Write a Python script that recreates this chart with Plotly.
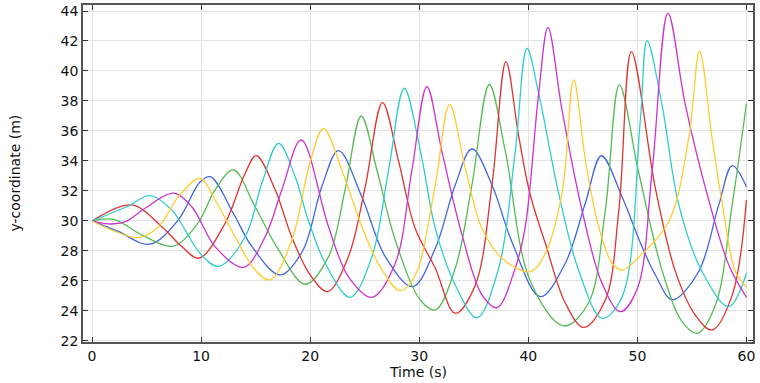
import plotly.graph_objects as go

# ---- data ----
blue_t = [0, 2.4, 5.3, 7.9, 9.9, 10.85, 12.96, 14.65, 17.25, 19.3, 21.07, 22.6, 24.74, 26.9, 29.4,
          31.47, 33.3, 34.83, 36.67, 38.5, 41.1, 43.4, 45.23, 46.7, 48.6, 50.3, 51.65, 53.2, 55.6,
          57.46, 58.7, 60]
blue_v = [30, 29.3, 28.45, 30.07, 32.6, 32.95, 30.5, 28.3, 26.4, 28.0, 32.3, 34.69, 31.6, 27.6, 25.62,
          28.18, 32.4, 34.8, 32.4, 28.6, 24.95, 27.2, 31.2, 34.35, 31.6, 28.5, 26.4, 24.75, 26.6,
          31.07, 33.69, 32.29]

green_t = [0, 1.96, 4.86, 7.46, 9.7, 11.28, 12.96, 14.95, 17.1, 19.54, 21.68, 23.2, 24.68, 26.12,
           27.8, 30.1, 31.47, 33.3, 34.83, 36.42, 37.9, 40.18, 43.24, 45.5, 47.06, 48.35, 50.1,
           52.3, 54.1, 55.48, 57.16, 58.69, 60]
green_v = [30, 30.1, 28.95, 28.33, 29.85, 32.07, 33.4, 30.95, 28.07, 25.78, 27.62, 32.07, 37.0, 33.4,
           28.73, 24.73, 24.07, 26.85, 32.4, 39.1, 34.62, 26.0, 23.0, 24.51, 30.73, 39.07, 33.3,
           26.62, 23.29, 22.51, 24.4, 31.07, 37.85]

red_t = [0, 3.64, 6.39, 8.23, 9.8, 12.2, 14.04, 15.05, 16.8, 18.3, 20.0, 21.6, 23.5, 25.05, 26.63,
         28.1, 29.63, 31.47, 33.3, 35.14, 36.67, 37.95, 39.1, 40.18, 41.56, 43.4, 45.08, 47.06,
         48.3, 49.45, 51.65, 53.49, 55.3, 56.85, 58.7, 60]
red_v = [30, 31.07, 29.62, 28.29, 27.52, 29.85, 33.18, 34.36, 32.07, 28.95, 26.4, 25.29, 27.62, 32.29,
         37.89, 34.0, 29.5, 26.85, 23.85, 25.73, 32.4, 40.62, 35.73, 31.73, 28.51, 24.51, 22.9,
         24.73, 30.73, 41.29, 32.18, 26.62, 23.73, 22.73, 25.07, 31.4]

cyan_t = [0, 3.33, 5.32, 7.31, 8.53, 9.9, 11.59, 14.04, 15.57, 17.1, 18.62, 19.8, 21.38, 23.67,
          25.66, 27.19, 28.62, 30.09, 31.47, 33.3, 35.29, 37.28, 38.8, 39.88, 40.95, 42.78, 44.6,
          46.76, 48.6, 50.27, 50.89, 52.26, 53.8, 55.93, 58.38, 60]
cyan_v = [30, 31.0, 31.69, 30.73, 29.4, 27.85, 26.97, 28.95, 32.51, 35.18, 32.95, 30.1, 27.18, 24.91,
          27.62, 33.4, 38.85, 34.73, 29.51, 25.73, 23.55, 26.85, 34.62, 41.51, 38.51, 31.85, 26.73,
          23.51, 24.95, 36.73, 42.02, 37.73, 31.07, 26.62, 24.29, 26.51]

magenta_t = [0, 1.5, 3.03, 4.86, 7.46, 9.14, 11.28, 13.88, 15.87, 17.4, 19.17, 21.68, 23.5, 25.66,
             27.8, 29.33, 30.7, 32.08, 33.92, 35.75, 37.13, 38.8, 39.72, 40.95, 41.8, 43.09, 44.92,
             46.76, 48.44, 50.0, 51.35, 52.8, 54.4, 56.5, 58.38, 60]
magenta_v = [30, 29.8, 29.95, 30.85, 31.85, 30.95, 28.29, 26.91, 28.95, 32.07, 35.4, 29.62, 26.29,
             24.91, 27.18, 33.4, 38.95, 34.62, 29.07, 25.07, 24.22, 26.85, 29.62, 38.51, 42.91, 37.4,
             30.73, 25.84, 23.95, 25.5, 33.29, 43.85, 37.73, 31.51, 27.07, 24.91]

yellow_t = [0, 1.8, 4.25, 6.09, 7.92, 9.9, 11.28, 13.12, 14.95, 16.33, 18.32, 20.0, 21.22, 22.9,
            24.74, 26.58, 28.26, 29.63, 31.47, 32.78, 34.22, 35.75, 37.59, 40.18, 41.56, 43.09,
            44.16, 45.23, 46.45, 47.68, 48.6, 50.0, 52.9, 54.7, 55.7, 56.85, 57.8, 59.0, 60]
yellow_v = [30, 29.4, 28.89, 29.62, 31.62, 32.84, 31.4, 28.95, 26.73, 26.07, 28.73, 33.95, 36.18, 33.4,
            29.62, 26.73, 25.35, 26.4, 32.4, 37.78, 33.51, 29.51, 27.51, 26.62, 27.84, 31.85,
            39.4, 34.07, 29.62, 27.18, 26.73, 27.5, 30.0, 35.5, 41.3, 35.51, 31.07, 26.6, 25.6]

x_ticks = [0, 10, 20, 30, 40, 50, 60]
y_ticks = [22, 24, 26, 28, 30, 32, 34, 36, 38, 40, 42, 44]
x_title = "Time (s)"
y_title = "y-coordinate (m)"

series = [
    (blue_t, blue_v, "#4466dd"),
    (green_t, green_v, "#55bb55"),
    (red_t, red_v, "#dd3333"),
    (cyan_t, cyan_v, "#33cccc"),
    (magenta_t, magenta_v, "#cc33cc"),
    (yellow_t, yellow_v, "#ffcc33"),
]

fig = go.Figure()
for t, v, c in series:
    fig.add_trace(go.Scatter(x=t, y=v, mode="lines",
                             line=dict(color=c, width=1.3, shape="spline", smoothing=1.0),
                             showlegend=False, hoverinfo="skip"))

font = dict(family="DejaVu Sans", size=14, color="#111111")
axis_common = dict(
    showline=True, linecolor="#555555", linewidth=1.5, mirror="ticks",
    ticks="inside", ticklen=5, tickcolor="#333333",
    showgrid=True, gridcolor="#e3e3e3", gridwidth=1, zeroline=False,
    tickfont=font, automargin=False,
)

fig.update_layout(
    width=760, height=383,
    margin=dict(l=83, r=7, t=5, b=41),
    paper_bgcolor="white", plot_bgcolor="white",
    xaxis=dict(range=[-0.83, 60.6], tickvals=x_ticks, **axis_common),
    yaxis=dict(range=[21.93, 44.4], tickvals=y_ticks, **axis_common),
    annotations=[
        dict(text=x_title, xref="paper", yref="paper", x=0.5, y=0, xanchor="center",
             yanchor="middle", yshift=-30, showarrow=False, font=font),
        dict(text=y_title, xref="paper", yref="paper", x=0, y=0.5, xanchor="center",
             yanchor="middle", xshift=-69, textangle=-90, showarrow=False, font=font),
    ],
)

fig.write_html("out.html", config={"displayModeBar": False},
               post_script="document.body.style.margin='0px';document.body.style.overflow='hidden';")
